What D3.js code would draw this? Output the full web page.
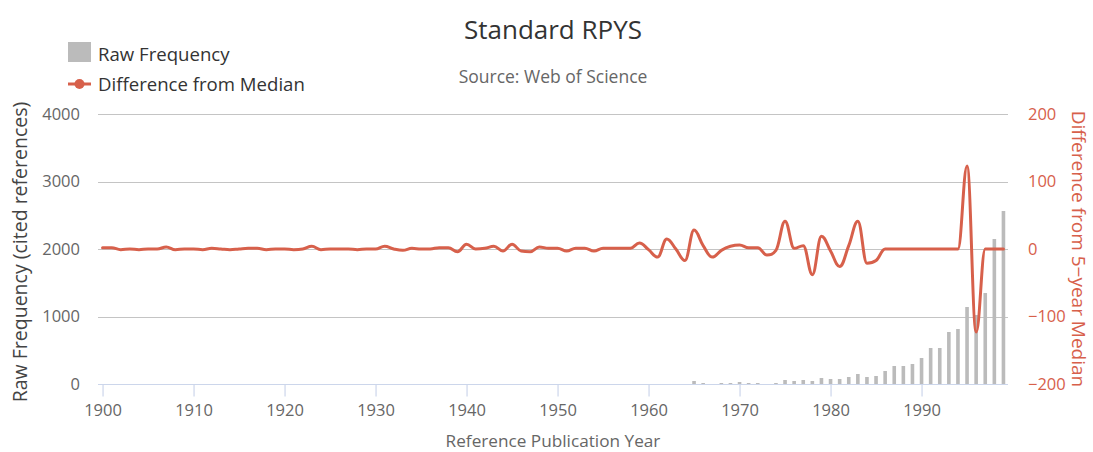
<!DOCTYPE html>
<html>
<head>
<meta charset="utf-8">
<script src="https://cdn.jsdelivr.net/npm/d3@7"></script>
<style>
  html, body { margin: 0; padding: 0; background: #ffffff; }
  svg { display: block; font-family: "Open Sans", "Noto Sans", sans-serif; }
</style>
</head>
<body>
<svg id="chart" width="1093" height="452"></svg>
<script>
// ---------------- DATA ----------------
const years = [
  1900,1901,1902,1903,1904,1905,1906,1907,1908,1909,
  1910,1911,1912,1913,1914,1915,1916,1917,1918,1919,
  1920,1921,1922,1923,1924,1925,1926,1927,1928,1929,
  1930,1931,1932,1933,1934,1935,1936,1937,1938,1939,
  1940,1941,1942,1943,1944,1945,1946,1947,1948,1949,
  1950,1951,1952,1953,1954,1955,1956,1957,1958,1959,
  1960,1961,1962,1963,1964,1965,1966,1967,1968,1969,
  1970,1971,1972,1973,1974,1975,1976,1977,1978,1979,
  1980,1981,1982,1983,1984,1985,1986,1987,1988,1989,
  1990,1991,1992,1993,1994,1995,1996,1997,1998,1999
];

// Raw frequency (cited references) per reference publication year
const rawFrequency = [
  4,4,1,2,1,2,2,5,1,2,
  2,1,3,2,1,2,3,3,1,2,
  2,1,2,6,1,2,2,2,1,2,
  2,6,2,1,3,2,2,4,4,1,
  6,3,4,6,1,6,2,1,5,4,
  4,1,4,4,1,4,4,4,4,6,
  4,1,6,5,1,45,20,2,20,20,
  25,20,20,3,20,60,45,60,40,90,
  70,70,100,145,100,120,195,270,272,295,
  385,533,535,770,820,1141,1018,1348,2148,2563
];

// Difference from 5-year median
const diffFromMedian = [
  2,2,-1,0,-1,0,0,3,-1,0,
  0,-1,1,0,-1,0,1,1,-1,0,
  0,-1,0,4,-1,0,0,0,-1,0,
  0,4,0,-2,1,0,0,2,2,-4,
  7,0,1,4,-3,7,-3,-4,3,1,
  1,-3,1,1,-3,1,1,1,1,9,
  -1,-12,15,0,-17,28,5,-12,-2,4,
  6,2,2,-9,-2,41,1,5,-38,19,
  -3,-26,5,41,-21,-17,0,0,0,0,
  0,0,0,0,0,123,-123,0,0,0
];

const xTicks = [1900,1910,1920,1930,1940,1950,1960,1970,1980,1990];
const leftTicks = [0,1000,2000,3000,4000];
const rightTicks = [-200,-100,0,100,200];

const titleText = "Standard RPYS";
const subtitleText = "Source: Web of Science";
const legendLabels = ["Raw Frequency", "Difference from Median"];
const xTitle = "Reference Publication Year";
const yLeftTitle = "Raw Frequency (cited references)";
const yRightTitle = "Difference from 5\u2212year Median";

// ---------------- STYLE / LAYOUT ----------------
const W = 1093, H = 452;
const plot = { left: 98, right: 1008, top: 114, bottom: 384 };
const barColor = "#bbbbbb";
const lineColor = "#d7604b";
const gridColor = "#c4c4c4";
const axisLineColor = "#ccd6eb";
const FONT = "'Open Sans', 'Noto Sans', sans-serif";

const svg = d3.select("#chart");

const x = d3.scaleLinear().domain([1899.5, 1999.5]).range([plot.left, plot.right]);
const yL = d3.scaleLinear().domain([0, 4000]).range([plot.bottom, plot.top]);
const yR = d3.scaleLinear().domain([-200, 200]).range([plot.bottom, plot.top]);

// gridlines
svg.append("g").selectAll("line").data(leftTicks.filter(d => d > 0)).join("line")
  .attr("x1", plot.left).attr("x2", plot.right)
  .attr("y1", d => Math.round(yL(d)) + 0.5).attr("y2", d => Math.round(yL(d)) + 0.5)
  .attr("stroke", gridColor).attr("stroke-width", 1);

// bars
const barW = 3.6;
svg.append("g").selectAll("rect").data(years.map((yr, i) => ({ yr, v: rawFrequency[i] }))).join("rect")
  .attr("x", d => x(d.yr) - barW / 2)
  .attr("width", barW)
  .attr("y", d => yL(0) - Math.round(yL(0) - yL(d.v)))
  .attr("height", d => Math.round(yL(0) - yL(d.v)))
  .attr("fill", barColor);

// x axis
const xAxis = d3.axisBottom(x).tickValues(xTicks).tickFormat(d3.format("d")).tickSize(12).tickPadding(8);
const gx = svg.append("g").attr("transform", `translate(0,${plot.bottom + 0.5})`).call(xAxis);
gx.select(".domain").attr("stroke", axisLineColor).attr("stroke-width", 1.2)
  .attr("d", `M${plot.left},0H${plot.right}`);
gx.selectAll(".tick line").attr("stroke", axisLineColor).attr("stroke-width", 1.2);
gx.selectAll(".tick text").attr("fill", "#666666").attr("font-size", 16.5).attr("font-family", FONT);

// left axis
const gyl = svg.append("g").attr("transform", `translate(${plot.left},0)`)
  .call(d3.axisLeft(yL).tickValues(leftTicks).tickFormat(d3.format("d")).tickSize(0).tickPadding(18));
gyl.select(".domain").remove();
gyl.selectAll(".tick text").attr("fill", "#666666").attr("font-size", 16.5).attr("font-family", FONT);

// right axis
const gyr = svg.append("g").attr("transform", `translate(${plot.right},0)`)
  .call(d3.axisRight(yR).tickValues(rightTicks).tickFormat(d3.format("d")).tickSize(0).tickPadding(20));
gyr.select(".domain").remove();
gyr.selectAll(".tick text").attr("fill", lineColor).attr("font-size", 16.5).attr("font-family", FONT);

// spline (Highcharts-style smoothing)
const pts = years.map((yr, i) => ({ x: x(yr), y: yR(diffFromMedian[i]) }));
function splinePath(points) {
  const s = 1.5, den = s + 1;
  const p = d3.path();
  p.moveTo(points[0].x, points[0].y);
  for (let i = 1; i < points.length; i++) {
    const pt = points[i], last = points[i - 1], next = points[i + 1];
    let lcx = pt.x, lcy = pt.y;
    if (next) {
      lcx = (s * pt.x + last.x) / den; lcy = (s * pt.y + last.y) / den;
      let rcx = (s * pt.x + next.x) / den, rcy = (s * pt.y + next.y) / den;
      if (rcx !== lcx) {
        const c = ((rcy - lcy) * (rcx - pt.x)) / (rcx - lcx) + pt.y - rcy;
        lcy += c; rcy += c;
      }
      if (lcy > last.y && lcy > pt.y) { lcy = Math.max(last.y, pt.y); rcy = 2 * pt.y - lcy; }
      else if (lcy < last.y && lcy < pt.y) { lcy = Math.min(last.y, pt.y); rcy = 2 * pt.y - lcy; }
      if (rcy > next.y && rcy > pt.y) { rcy = Math.max(next.y, pt.y); lcy = 2 * pt.y - rcy; }
      else if (rcy < next.y && rcy < pt.y) { rcy = Math.min(next.y, pt.y); lcy = 2 * pt.y - rcy; }
      pt.rcx = rcx; pt.rcy = rcy;
    }
    const c1x = last.rcx !== undefined ? last.rcx : last.x;
    const c1y = last.rcy !== undefined ? last.rcy : last.y;
    p.bezierCurveTo(c1x, c1y, lcx, lcy, pt.x, pt.y);
  }
  return p.toString();
}
svg.append("path").attr("d", splinePath(pts))
  .attr("fill", "none").attr("stroke", lineColor).attr("stroke-width", 3)
  .attr("stroke-linejoin", "round").attr("stroke-linecap", "round");

// titles
svg.append("text").attr("x", 553).attr("y", 39).attr("text-anchor", "middle")
  .attr("font-size", 26).attr("fill", "#333333").text(titleText);
svg.append("text").attr("x", 553).attr("y", 83).attr("text-anchor", "middle")
  .attr("font-size", 17.5).attr("fill", "#666666").text(subtitleText);
svg.append("text").attr("x", 553).attr("y", 447).attr("text-anchor", "middle")
  .attr("font-size", 17.2).attr("fill", "#666666").text(xTitle);
svg.append("text").attr("transform", `translate(27,252) rotate(-90)`)
  .attr("text-anchor", "middle").attr("font-size", 19.5).attr("fill", "#444444").text(yLeftTitle);
svg.append("text").attr("transform", `translate(1072,249) rotate(90)`)
  .attr("text-anchor", "middle").attr("font-size", 19).attr("fill", lineColor).text(yRightTitle);

// legend
const lg = svg.append("g");
lg.append("rect").attr("x", 68).attr("y", 42).attr("width", 23).attr("height", 20).attr("fill", barColor);
lg.append("text").attr("x", 98).attr("y", 61).attr("font-size", 18.6).attr("fill", "#333333").text(legendLabels[0]);
lg.append("line").attr("x1", 68).attr("x2", 91).attr("y1", 84).attr("y2", 84)
  .attr("stroke", lineColor).attr("stroke-width", 3);
lg.append("circle").attr("cx", 79.5).attr("cy", 84).attr("r", 5).attr("fill", lineColor);
lg.append("text").attr("x", 98).attr("y", 90.5).attr("font-size", 18.6).attr("fill", "#333333").text(legendLabels[1]);
</script>
</body>
</html>
